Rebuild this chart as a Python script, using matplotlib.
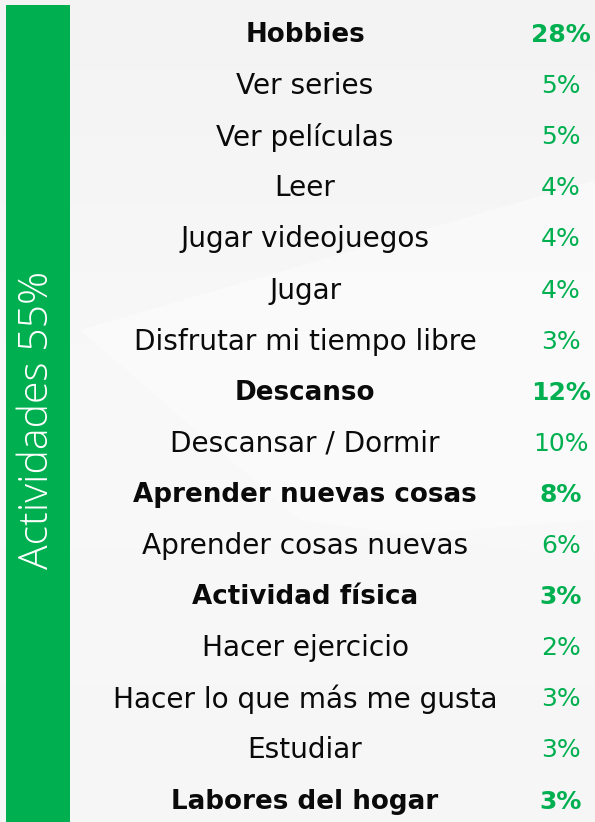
import matplotlib
matplotlib.use("Agg")
import matplotlib.pyplot as plt
import numpy as np
from matplotlib.patches import Rectangle, Polygon

categories = ["Hobbies", "Ver series", "Ver películas", "Leer", "Jugar videojuegos",
              "Jugar", "Disfrutar mi tiempo libre", "Descanso", "Descansar / Dormir",
              "Aprender nuevas cosas", "Aprender cosas nuevas", "Actividad física",
              "Hacer ejercicio", "Hacer lo que más me gusta", "Estudiar", "Labores del hogar"]
values = [28, 5, 5, 4, 4, 4, 3, 12, 10, 8, 6, 3, 2, 3, 3, 3]
is_header = [True, False, False, False, False, False, False, True, False,
             True, False, True, False, False, False, True]
side_label = "Actividades 55%"

GREEN = "#00B050"
W, H = 595, 822
fig = plt.figure(figsize=(W / 100, H / 100), dpi=100)
ax = fig.add_axes([0, 0, 1, 1])
ax.set_xlim(0, W)
ax.set_ylim(H, 0)
ax.axis("off")

# background gradient
grad = np.linspace(0, 1, 256).reshape(-1, 1)
cmap = matplotlib.colors.LinearSegmentedColormap.from_list("bg", ["#f3f3f3", "#f9f9f9", "#f6f6f6"])
ax.imshow(grad, extent=[0, W, H, 0], cmap=cmap, aspect="auto", zorder=0)
ax.add_patch(Polygon([[80, 330], [595, 180], [595, 560], [300, 520]], closed=True,
                     facecolor="#fbfbfb", edgecolor="none", alpha=0.8, zorder=0.5))
ax.add_patch(Polygon([[70, 560], [595, 520], [595, 822], [70, 822]], closed=True,
                     facecolor="#f7f7f7", edgecolor="none", alpha=0.6, zorder=0.5))

# green side bar
ax.add_patch(Rectangle((6, 5), 64, H - 5, facecolor=GREEN, edgecolor="none", zorder=1))
ax.text(38, 420, side_label, rotation=90, ha="center", va="center", color="white",
        fontsize=29.5, family="Open Sans", fontweight="light", zorder=2)

y0, dy = 35, 51.1
label_x, val_x = 305, 561
for i, (c, v, h) in enumerate(zip(categories, values, is_header)):
    y = y0 + i * dy
    fw = "bold" if h else "normal"
    fs = 18.8 if h else 20.2
    ax.text(label_x, y, c, ha="center", va="center", fontsize=fs, color="#0a0a0a",
            family="DejaVu Sans", fontweight=fw, zorder=2)
    ax.text(val_x, y, f"{v}%", ha="center", va="center", fontsize=18,
            color=GREEN, family="DejaVu Sans", fontweight=fw, zorder=2)

fig.savefig("out.png", dpi=100)
